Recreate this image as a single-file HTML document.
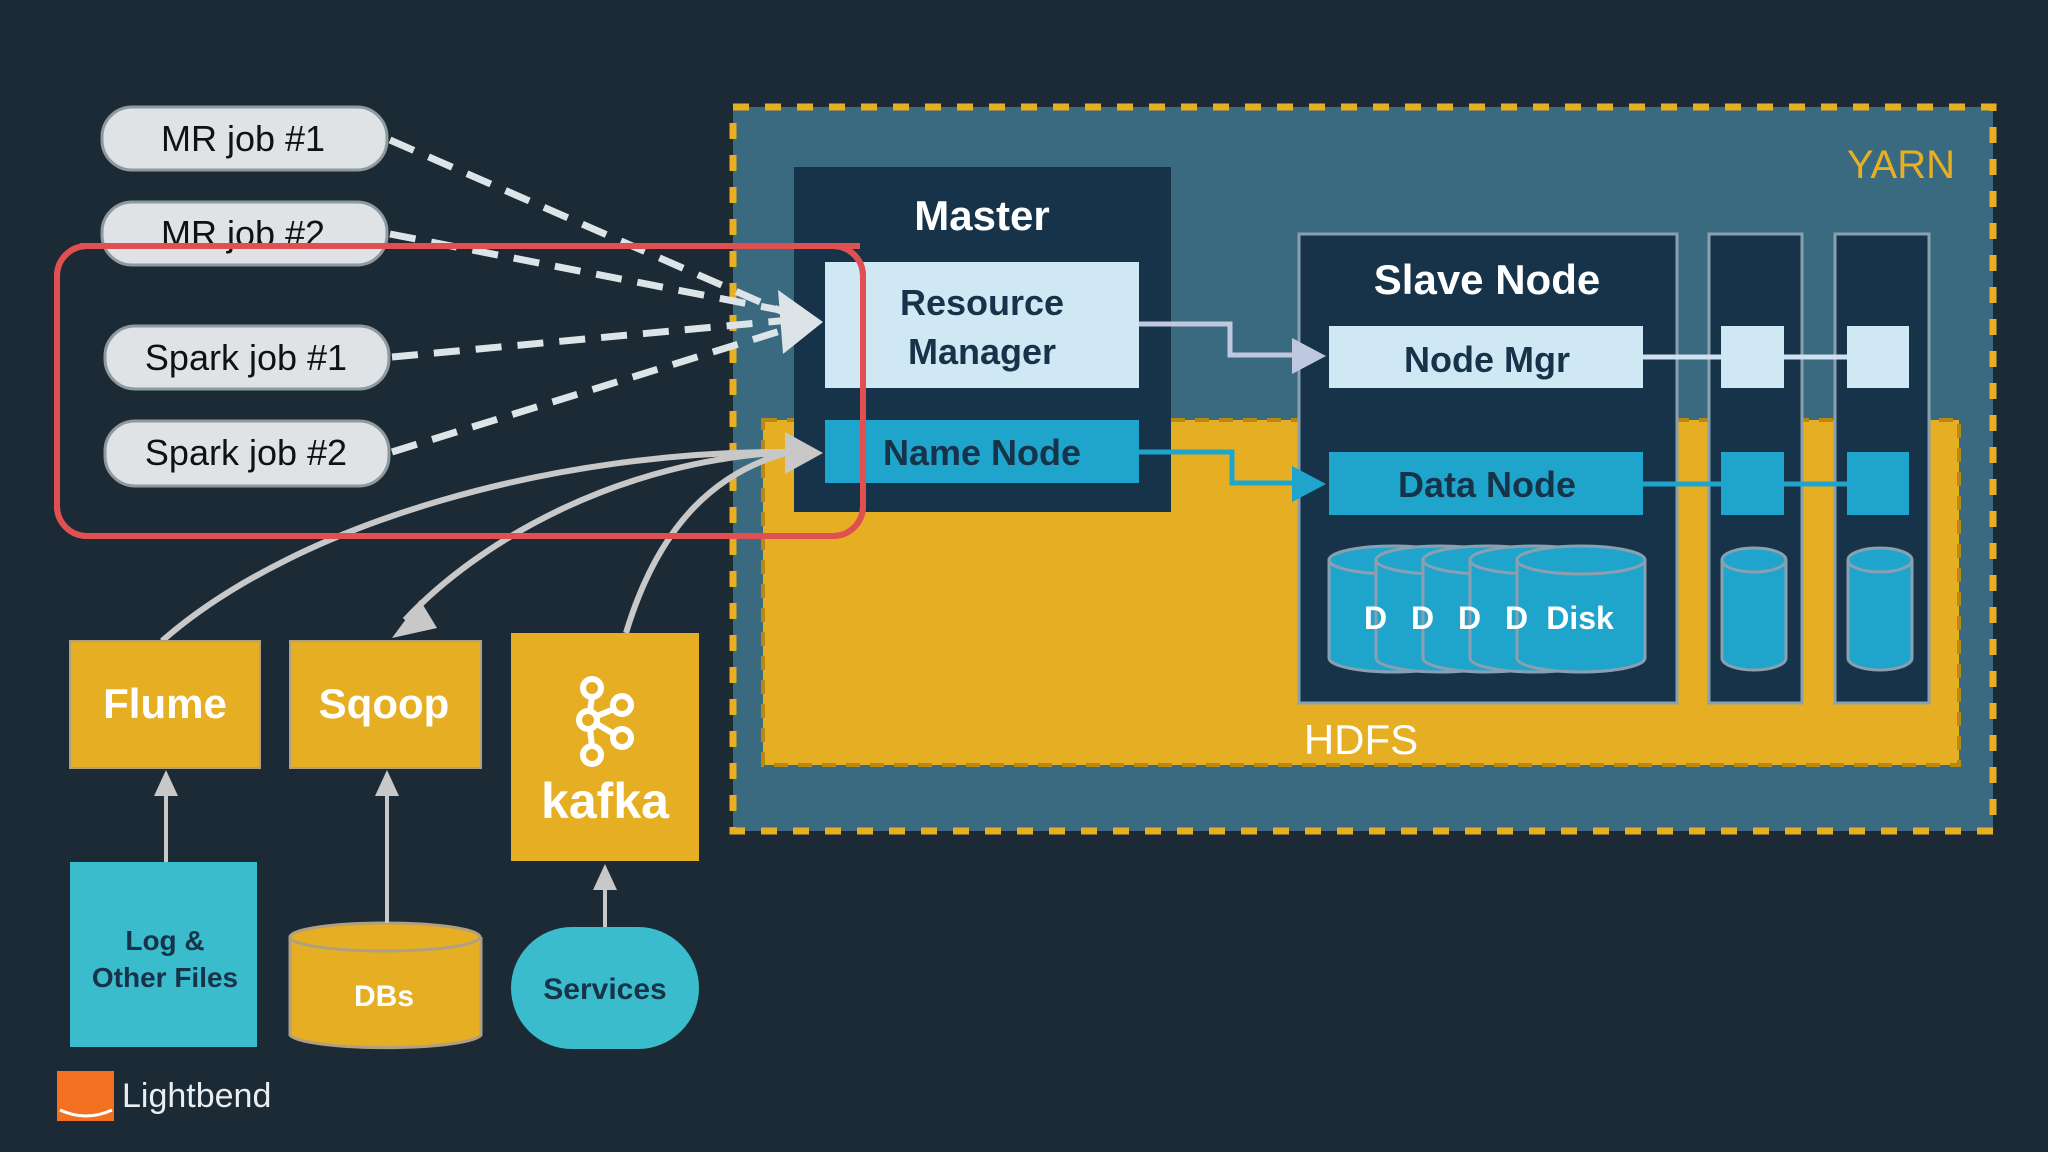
<!DOCTYPE html>
<html><head><meta charset="utf-8"><style>
html,body{margin:0;padding:0;background:#1b2a35;}
svg{display:block;font-family:"Liberation Sans",sans-serif;}
</style></head><body>
<svg width="2048" height="1152" viewBox="0 0 2048 1152" xmlns="http://www.w3.org/2000/svg">
<defs>
<marker id="ag" markerWidth="10" markerHeight="10" refX="9" refY="5" orient="auto" markerUnits="userSpaceOnUse" viewBox="0 0 10 10"><path d="M0,0 L10,5 L0,10 z" fill="#c8c8c8"/></marker>
</defs>
<rect width="2048" height="1152" fill="#1b2a35"/>
<!-- YARN -->
<rect x="733" y="107" width="1260" height="724" fill="#3a6a80" stroke="#e8b020" stroke-width="7" stroke-dasharray="16,16"/>
<text x="1955" y="178" font-size="40" fill="#e8b020" text-anchor="end">YARN</text>
<!-- HDFS -->
<rect x="763" y="420" width="1196" height="345" fill="#e6ae22" stroke="#b88810" stroke-width="4" stroke-dasharray="14,10"/>
<text x="1361" y="754" font-size="42" fill="#ffffff" text-anchor="middle">HDFS</text>
<!-- Master -->
<rect x="794" y="167" width="377" height="345" fill="#163349"/>
<text x="982" y="230" font-size="42" fill="#fff" text-anchor="middle" font-weight="bold">Master</text>
<rect x="825" y="262" width="314" height="126" fill="#cfe8f4"/>
<text x="982" y="315" font-size="36" fill="#163349" text-anchor="middle" font-weight="bold">Resource</text>
<text x="982" y="364" font-size="36" fill="#163349" text-anchor="middle" font-weight="bold">Manager</text>
<rect x="825" y="420" width="314" height="63" fill="#1fa5cc"/>
<text x="982" y="465" font-size="36" fill="#163349" text-anchor="middle" font-weight="bold">Name Node</text>
<!-- Slave nodes -->
<rect x="1299" y="234" width="378" height="469" fill="#163349" stroke="#8aa0b0" stroke-width="3"/>
<rect x="1709" y="234" width="93" height="469" fill="#163349" stroke="#8aa0b0" stroke-width="3"/>
<rect x="1835" y="234" width="94" height="469" fill="#163349" stroke="#8aa0b0" stroke-width="3"/>
<text x="1487" y="294" font-size="42" fill="#fff" text-anchor="middle" font-weight="bold">Slave Node</text>
<line x1="1643" y1="357" x2="1909" y2="357" stroke="#cfe0f0" stroke-width="5"/>
<line x1="1643" y1="484" x2="1909" y2="484" stroke="#1fa5cc" stroke-width="5"/>
<rect x="1329" y="326" width="314" height="62" fill="#cfe8f4"/>
<text x="1487" y="372" font-size="36" fill="#163349" text-anchor="middle" font-weight="bold">Node Mgr</text>
<rect x="1329" y="452" width="314" height="63" fill="#1fa5cc"/>
<text x="1487" y="497" font-size="36" fill="#163349" text-anchor="middle" font-weight="bold">Data Node</text>
<rect x="1721" y="326" width="63" height="62" fill="#cfe8f4"/>
<rect x="1847" y="326" width="62" height="62" fill="#cfe8f4"/>
<rect x="1721" y="452" width="63" height="63" fill="#1fa5cc"/>
<rect x="1847" y="452" width="62" height="63" fill="#1fa5cc"/>
<!-- disks -->
<g stroke="#8aa0b0" stroke-width="3" fill="#1fa5cc">
<g id="c1"><path d="M1329,560 v98 a64,14 0 0 0 128,0 v-98"/><ellipse cx="1393" cy="560" rx="64" ry="14"/></g>
<path d="M1376,560 v98 a64,14 0 0 0 128,0 v-98"/><ellipse cx="1440" cy="560" rx="64" ry="14"/>
<path d="M1423,560 v98 a64,14 0 0 0 128,0 v-98"/><ellipse cx="1487" cy="560" rx="64" ry="14"/>
<path d="M1470,560 v98 a64,14 0 0 0 128,0 v-98"/><ellipse cx="1534" cy="560" rx="64" ry="14"/>
<path d="M1517,560 v98 a64,14 0 0 0 128,0 v-98"/><ellipse cx="1581" cy="560" rx="64" ry="14"/>
<path d="M1722,560 v98 a32,12 0 0 0 64,0 v-98"/><ellipse cx="1754" cy="560" rx="32" ry="12"/>
<path d="M1848,560 v98 a32,12 0 0 0 64,0 v-98"/><ellipse cx="1880" cy="560" rx="32" ry="12"/>
</g>
<text x="1580" y="629" font-size="32" fill="#fff" text-anchor="middle" font-weight="bold">Disk</text>
<g font-size="32" fill="#fff" font-weight="bold"><text x="1364" y="629">D</text><text x="1411" y="629">D</text><text x="1458" y="629">D</text><text x="1505" y="629">D</text></g>
<!-- connectors -->
<polyline points="1139,324 1230,324 1230,355 1300,355" fill="none" stroke="#c0c8e0" stroke-width="5"/>
<path d="M1292,338 L1326,356 L1292,374 z" fill="#c0c8e0"/>
<polyline points="1139,452 1232,452 1232,483 1300,483" fill="none" stroke="#1fa5cc" stroke-width="5"/>
<path d="M1292,466 L1326,484 L1292,502 z" fill="#1fa5cc"/>
<!-- dashed job arrows -->
<g stroke="#dde4e8" stroke-width="7" fill="none" stroke-dasharray="26,16">
<path d="M390,140 L790,315"/>
<path d="M390,234 L790,312"/>
<path d="M392,357 L790,320"/>
<path d="M392,452 L790,328"/>
</g>
<path d="M778,290 L823,322 L783,354 z" fill="#dde4e8"/>
<!-- curves -->
<g stroke="#c8c8c8" stroke-width="6" fill="none">
<path d="M162,641 C300,520 560,450 790,452"/>
<path d="M790,452 C620,460 480,540 405,620"/>
<path d="M626,633 C660,520 720,470 790,452"/>
</g>
<path d="M785,432 L823,453 L785,474 z" fill="#c8c8c8"/>
<path d="M420,600 L392,638 L437,628 z" fill="#c8c8c8"/>
<!-- red frame -->
<rect x="57" y="246" width="806" height="290" rx="30" fill="none" stroke="#e05050" stroke-width="6"/>
<!-- jobs -->
<g fill="#dfe3e5" stroke="#8e9aa0" stroke-width="3">
<rect x="102" y="107" width="285" height="63" rx="30"/>
<rect x="102" y="202" width="285" height="63" rx="30"/>
<rect x="105" y="326" width="284" height="63" rx="30"/>
<rect x="105" y="421" width="284" height="65" rx="30"/>
</g>
<g font-size="36" fill="#111" text-anchor="middle">
<text x="243" y="151">MR job #1</text>
<text x="243" y="246">MR job #2</text>
<text x="246" y="370">Spark job #1</text>
<text x="246" y="465">Spark job #2</text>
</g>
<!-- red over mr2 -->
<line x1="80" y1="246" x2="860" y2="246" stroke="#e05050" stroke-width="6"/>
<rect x="57" y="246" width="806" height="290" rx="30" fill="none" stroke="#e05050" stroke-width="6"/>
<!-- sources -->
<rect x="70" y="641" width="190" height="127" fill="#e6ae22" stroke="#b0a080" stroke-width="2"/>
<text x="165" y="718" font-size="42" fill="#fff" text-anchor="middle" font-weight="bold">Flume</text>
<rect x="290" y="641" width="191" height="127" fill="#e6ae22" stroke="#b0a080" stroke-width="2"/>
<text x="384" y="718" font-size="42" fill="#fff" text-anchor="middle" font-weight="bold">Sqoop</text>
<rect x="511" y="633" width="188" height="228" fill="#e6ae22"/>
<g fill="none" stroke="#fff" stroke-width="6">
<circle cx="592" cy="688" r="9"/><circle cx="622" cy="705" r="9"/><circle cx="588" cy="720" r="9"/><circle cx="622" cy="738" r="9"/><circle cx="592" cy="755" r="9"/>
<line x1="592" y1="697" x2="590" y2="711"/><line x1="590" y1="729" x2="592" y2="746"/><line x1="597" y1="716" x2="614" y2="709"/><line x1="597" y1="724" x2="614" y2="734"/>
</g>
<text x="605" y="818" font-size="50" fill="#fff" text-anchor="middle" font-weight="bold">kafka</text>
<rect x="70" y="862" width="187" height="185" fill="#3bbccc"/>
<text x="165" y="950" font-size="28" fill="#163349" text-anchor="middle" font-weight="bold">Log &amp;</text>
<text x="165" y="987" font-size="28" fill="#163349" text-anchor="middle" font-weight="bold">Other Files</text>
<path d="M290,937 v98 a96,14 0 0 0 191,0 v-98" fill="#e6ae22" stroke="#b0a080" stroke-width="3"/>
<ellipse cx="385" cy="937" rx="95" ry="14" fill="#e6ae22" stroke="#b0a080" stroke-width="3"/>
<text x="384" y="1006" font-size="30" fill="#fff" text-anchor="middle" font-weight="bold">DBs</text>
<rect x="511" y="927" width="188" height="122" rx="61" fill="#3bbccc"/>
<text x="605" y="999" font-size="30" fill="#163349" text-anchor="middle" font-weight="bold">Services</text>
<g stroke="#c8c8c8" stroke-width="4"><line x1="166" y1="862" x2="166" y2="790"/><line x1="387" y1="923" x2="387" y2="790"/><line x1="605" y1="927" x2="605" y2="883"/></g>
<g fill="#c8c8c8"><path d="M154,796 L166,770 L178,796 z"/><path d="M375,796 L387,770 L399,796 z"/><path d="M593,890 L605,864 L617,890 z"/></g>
<!-- logo -->
<rect x="57" y="1071" width="57" height="50" fill="#f37021"/>
<path d="M60,1110 Q86,1122 112,1110" stroke="#fff" stroke-width="3" fill="none"/>
<text x="122" y="1107" font-size="34" fill="#e8eef2">Lightbend</text>
</svg>
</body></html>
